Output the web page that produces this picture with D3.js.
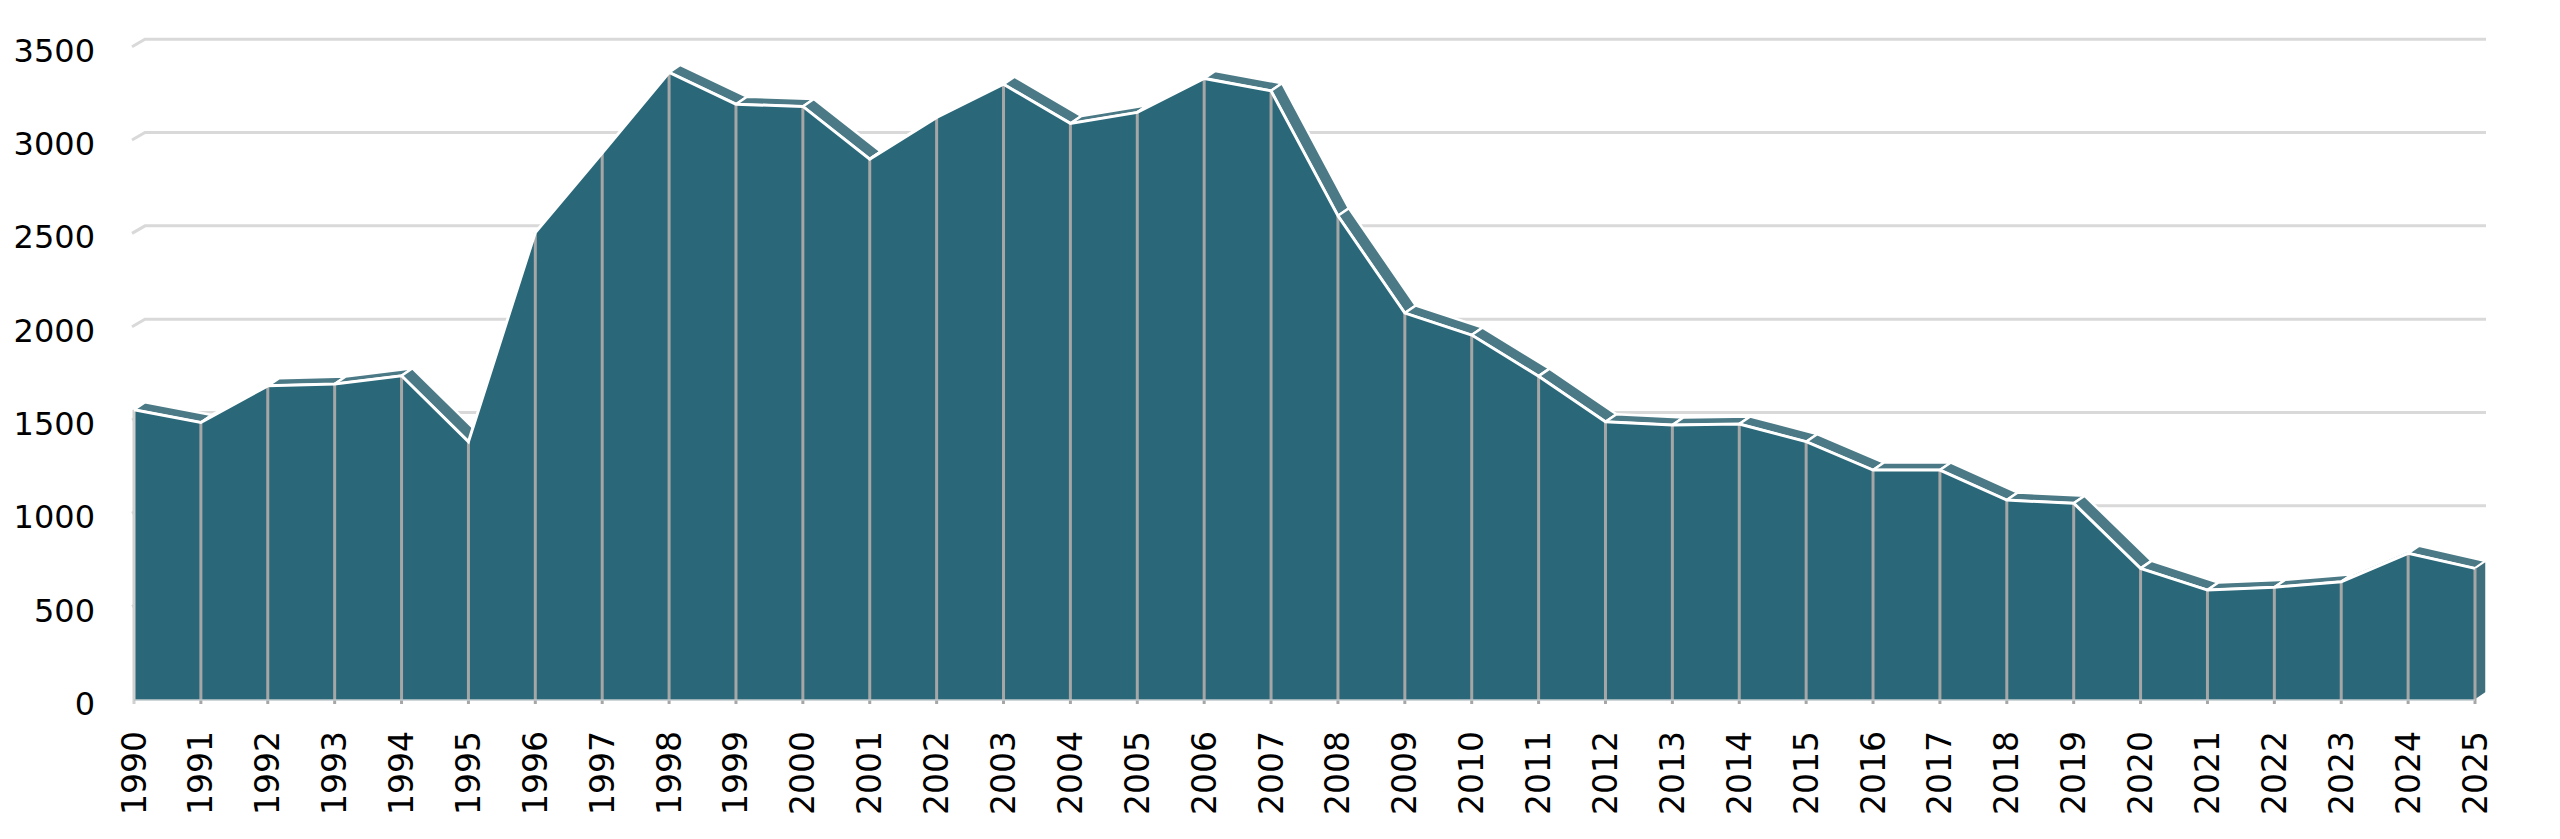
<!DOCTYPE html>
<html>
<head>
<meta charset="utf-8">
<script src="https://cdn.jsdelivr.net/npm/d3@7"></script>
<style>
  html, body { margin: 0; padding: 0; background: #fff; }
  svg { display: block; }
  text { font-family: "DejaVu Sans", sans-serif; fill: #000; }
</style>
</head>
<body>
<script>
// data
var years = [1990, 1991, 1992, 1993, 1994, 1995, 1996, 1997, 1998, 1999,
             2000, 2001, 2002, 2003, 2004, 2005, 2006, 2007, 2008, 2009,
             2010, 2011, 2012, 2013, 2014, 2015, 2016, 2017, 2018, 2019,
             2020, 2021, 2022, 2023, 2024, 2025];
var values = [1555, 1487, 1683, 1693, 1737, 1384, 2505, 2930, 3362, 3192,
              3180, 2898, 3121, 3299, 3089, 3148, 3330, 3264, 2594, 2073,
              1955, 1735, 1491, 1473, 1479, 1384, 1232, 1232, 1071, 1054,
              705, 589, 604, 634, 786, 705];
var yTicks = [0, 500, 1000, 1500, 2000, 2500, 3000, 3500];

const width = 2560;
const height = 839;
// depth of the 3d look
const dx = 11, dy = -7.5;

var data = years.map(function(yr, i){ return {year: yr, value: values[i]}; });

var x = d3.scalePoint().domain(years).range([134, 2475]);
var y = d3.scaleLinear().domain([0, 3500]).range([700, 46.7]);

var svg = d3.select("body")
    .append("svg")
    .attr("width", width)
    .attr("height", height);

// back wall gridlines with the small side-wall bit on the left
svg.append("g").selectAll("path")
    .data(yTicks.filter(function(t){ return t > 0; }))
    .enter()
    .append("path")
    .attr("d", function(t){
        var yy = y(t);
        return "M" + (x(1990) - 2) + "," + yy + "L" + (x(1990) + dx) + "," + (yy + dy) +
               "L" + (x(2025) + dx) + "," + (yy + dy);
    })
    .style("fill", "none")
    .style("stroke", "#d9d9d9")
    .style("stroke-width", 3);

// top faces of each segment (only those facing us)
var faces = [];
for (var i = 0; i < data.length - 1; i++) {
    var x1 = x(data[i].year), y1 = y(data[i].value);
    var x2 = x(data[i + 1].year), y2 = y(data[i + 1].value);
    var sx = x2 - x1, sy = y2 - y1;
    if (dx * sy - dy * sx > 0) {
        faces.push([[x1, y1], [x2, y2], [x2 + dx, y2 + dy], [x1 + dx, y1 + dy]]);
    }
}
svg.append("g").selectAll("polygon")
    .data(faces)
    .enter()
    .append("polygon")
    .attr("points", function(d){ return d.map(function(p){ return p.join(","); }).join(" "); })
    .style("fill", "#4b7a86")
    .style("stroke", "#fff")
    .style("stroke-width", 2.5)
    .style("stroke-linejoin", "round");

// right side face
var last = data[data.length - 1];
svg.append("polygon")
    .attr("points", [
        [x(last.year), y(last.value)],
        [x(last.year) + dx, y(last.value) + dy],
        [x(last.year) + dx, y(0) + dy],
        [x(last.year), y(0)]
    ].map(function(p){ return p.join(","); }).join(" "))
    .style("fill", "#3f6f7c")
    .style("stroke", "#fff")
    .style("stroke-width", 1.5);

// front face
var area = d3.area()
    .x(function(d){ return x(d.year); })
    .y0(y(0))
    .y1(function(d){ return y(d.value); });

svg.append("path")
    .datum(data)
    .attr("d", area)
    .style("fill", "#2a6879");

// vertical lines at each year
svg.append("g").selectAll("line")
    .data(data)
    .enter()
    .append("line")
    .attr("x1", function(d){ return x(d.year); })
    .attr("x2", function(d){ return x(d.year); })
    .attr("y1", function(d){ return y(d.value); })
    .attr("y2", y(0) + 4)
    .style("stroke", function(d, i){ return i === 0 ? "#d0d0d0" : "#a6a6a6"; })
    .style("stroke-width", 3);

// floor edge
svg.append("line")
    .attr("x1", x(1990)).attr("x2", x(2025))
    .attr("y1", y(0)).attr("y2", y(0))
    .style("stroke", "#bfc9cc")
    .style("stroke-width", 1.5);

// white top edge of the front face
var line = d3.line()
    .x(function(d){ return x(d.year); })
    .y(function(d){ return y(d.value); });

svg.append("path")
    .datum(data)
    .attr("d", line)
    .style("fill", "none")
    .style("stroke", "#fff")
    .style("stroke-width", 3)
    .style("stroke-linejoin", "miter");

// y axis labels
svg.append("g").selectAll("text")
    .data(yTicks)
    .enter()
    .append("text")
    .attr("x", 95)
    .attr("y", function(t){ return y(t) + 4; })
    .attr("text-anchor", "end")
    .attr("dominant-baseline", "central")
    .style("font-size", "32px")
    .text(function(t){ return t; });

// x axis labels, rotated
svg.append("g").selectAll("text")
    .data(years)
    .enter()
    .append("text")
    .attr("transform", function(yr){ return "translate(" + x(yr) + ",731) rotate(-90)"; })
    .attr("text-anchor", "end")
    .attr("dominant-baseline", "central")
    .style("font-size", "33px")
    .text(function(yr){ return yr; });
</script>
</body>
</html>
